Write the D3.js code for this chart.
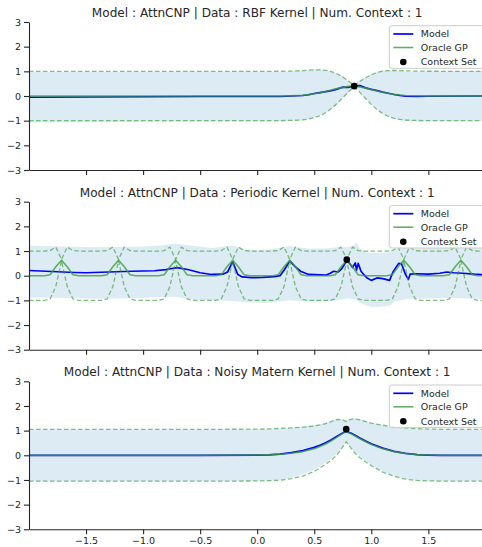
<!DOCTYPE html>
<html>
<head>
<meta charset="utf-8">
<script src="https://cdn.jsdelivr.net/npm/d3@7"></script>
<style>
  body { margin: 0; background: #fff; }
  text { font-family: "DejaVu Sans", sans-serif; fill: #262626; }
</style>
</head>
<body>
<div id="chart"></div>
<script>
// ---- values ----

var titles = [
  "Model : AttnCNP | Data : RBF Kernel | Num. Context : 1",
  "Model : AttnCNP | Data : Periodic Kernel | Num. Context : 1",
  "Model : AttnCNP | Data : Noisy Matern Kernel | Num. Context : 1"
];
var legendLabels = ["Model", "Oracle GP", "Context Set"];
var yTicks = [-3, -2, -1, 0, 1, 2, 3];
var xTicks = [-1.5, -1.0, -0.5, 0.0, 0.5, 1.0, 1.5];

// RBF kernel
var rbfX = [-2.0, -1.5, -1.0, -0.5, 0.0, 0.2, 0.3, 0.4, 0.45, 0.5, 0.55, 0.6, 0.65, 0.7, 0.75,
  0.8, 0.85, 0.9, 0.95, 1.0, 1.05, 1.1, 1.15, 1.2, 1.25, 1.3, 1.4, 1.5, 2.0];
var rbfOracleMean = [0, 0, 0, 0, 0, 0.003, 0.01, 0.03, 0.055, 0.09, 0.13, 0.18, 0.24, 0.30, 0.35,
  0.39, 0.40, 0.37, 0.32, 0.26, 0.20, 0.15, 0.10, 0.065, 0.04, 0.02, 0.008, 0.003, 0];
var rbfOracleStd = [1, 1, 1, 1, 1, 1, 1, 1, 0.99, 0.97, 0.93, 0.86, 0.75, 0.6, 0.42,
  0.22, 0.03, 0.22, 0.42, 0.6, 0.75, 0.86, 0.93, 0.97, 0.99, 1, 1, 1, 1];
var rbfModelMean = [-0.05, -0.04, -0.03, -0.02, -0.02, -0.02, 0.0, 0.02, 0.05, 0.1, 0.14, 0.18, 0.22, 0.28, 0.36,
  0.35, 0.41, 0.42, 0.33, 0.27, 0.22, 0.16, 0.11, 0.06, 0.02, -0.01, -0.02, -0.01, 0.0];
var rbfModelStd = [1.02, 1.02, 1.01, 1.01, 1.01, 1.01, 1.0, 1.0, 0.99, 0.97, 0.93, 0.86, 0.76, 0.62, 0.44,
  0.24, 0.05, 0.22, 0.42, 0.6, 0.75, 0.86, 0.93, 0.97, 0.99, 1.0, 1.01, 1.01, 1.0];
var rbfContextX = [0.85];
var rbfContextY = [0.40];

// Periodic kernel (oracle, model mean and model band each on their own grid)
var perOracleX = [-2.0, -1.965, -1.915, -1.865, -1.815, -1.765, -1.715,
  -1.665, -1.615, -1.565, -1.515, -1.465, -1.415, -1.365, -1.315, -1.265, -1.215,
  -1.165, -1.115, -1.065, -1.015, -0.965, -0.915, -0.865, -0.815, -0.765, -0.715,
  -0.665, -0.615, -0.565, -0.515, -0.465, -0.415, -0.365, -0.315, -0.265, -0.215,
  -0.165, -0.115, -0.065, -0.015, 0.035, 0.085, 0.135, 0.185, 0.235, 0.285,
  0.335, 0.385, 0.435, 0.485, 0.535, 0.585, 0.635, 0.685, 0.735, 0.785,
  0.835, 0.885, 0.935, 0.985, 1.035, 1.085, 1.135, 1.185, 1.235, 1.285,
  1.335, 1.385, 1.435, 1.485, 1.535, 1.585, 1.635, 1.685, 1.735, 1.785,
  1.835, 1.885, 1.935, 1.985, 2.0];
var perOracleMean = [0, 0, 0, 0, 0.04, 0.36, 0.63,
  0.36, 0.04, 0, 0, 0, 0, 0, 0.04, 0.36, 0.63,
  0.36, 0.04, 0, 0, 0, 0, 0, 0.04, 0.36, 0.63,
  0.36, 0.04, 0, 0, 0, 0, 0, 0.04, 0.36, 0.63,
  0.36, 0.04, 0, 0, 0, 0, 0, 0.04, 0.36, 0.63,
  0.36, 0.04, 0, 0, 0, 0, 0, 0.04, 0.36, 0.63,
  0.36, 0.04, 0, 0, 0, 0, 0, 0.04, 0.36, 0.63,
  0.36, 0.04, 0, 0, 0, 0, 0, 0.04, 0.36, 0.63,
  0.36, 0.04, 0, 0, 0];
var perOracleStd = [1, 1, 1, 1, 0.98, 0.8, 0.03,
  0.8, 0.98, 1, 1, 1, 1, 1, 0.98, 0.8, 0.03,
  0.8, 0.98, 1, 1, 1, 1, 1, 0.98, 0.8, 0.03,
  0.8, 0.98, 1, 1, 1, 1, 1, 0.98, 0.8, 0.03,
  0.8, 0.98, 1, 1, 1, 1, 1, 0.98, 0.8, 0.03,
  0.8, 0.98, 1, 1, 1, 1, 1, 0.98, 0.8, 0.03,
  0.8, 0.98, 1, 1, 1, 1, 1, 0.98, 0.8, 0.03,
  0.8, 0.98, 1, 1, 1, 1, 1, 0.98, 0.8, 0.03,
  0.8, 0.98, 1, 1, 1];
var perModelX = [-2.0, -1.8, -1.6, -1.5, -1.3, -1.1, -0.9, -0.8, -0.7, -0.6, -0.5, -0.4, -0.3, -0.26,
  -0.215, -0.17, -0.13, -0.05, 0.05, 0.15, 0.2, 0.24, 0.285, 0.33, 0.38, 0.45, 0.55, 0.6, 0.64,
  0.67, 0.71, 0.74, 0.76, 0.785, 0.81, 0.835, 0.86, 0.87, 0.885, 0.91, 0.935, 0.96, 1.0, 1.05,
  1.1, 1.16, 1.19, 1.24, 1.265, 1.3, 1.325, 1.34, 1.4, 1.5, 1.6, 1.66, 1.72, 1.8, 1.9, 2.0];
var perModelMean = [0.21, 0.17, 0.13, 0.12, 0.15, 0.18, 0.2, 0.25, 0.33, 0.24, 0.12, 0.05, 0.06, 0.15,
  0.56, 0.05, -0.05, -0.08, -0.07, -0.04, 0.0, 0.25, 0.6, 0.38, 0.18, 0.05, 0.03, 0.02, 0.1,
  0.18, 0.15, 0.28, 0.42, 0.62, 0.5, 0.33, 0.52, 0.23, 0.5, 0.18, 0.04, -0.08, -0.19, -0.09,
  -0.12, -0.19, 0.15, 0.5, 0.48, 0.05, -0.15, 0.06, 0.08, 0.06, 0.1, 0.15, 0.12, 0.1, 0.06, 0.04];
var perBandX = [-2.0, -1.7, -1.4, -1.0, -0.85, -0.72, -0.55, -0.4, -0.215, -0.1, 0.1, 0.285, 0.45,
  0.6, 0.7, 0.785, 0.84, 0.87, 0.9, 0.95, 1.0, 1.1, 1.17, 1.2, 1.25, 1.35, 1.5, 1.7, 2.0];
var perBandUpper = [1.22, 1.18, 1.15, 1.18, 1.22, 1.3, 1.2, 1.12, 1.22, 1.06, 1.05, 1.2, 1.1,
  1.1, 1.15, 1.15, 1.2, 1.36, 1.1, 0.96, 0.92, 0.93, 0.95, 1.02, 1.15, 1.1, 1.12, 1.17, 1.1];
var perBandLower = [-0.88, -0.9, -0.93, -0.9, -0.86, -0.85, -0.97, -1.0, -1.03, -1.08, -1.1, -1.0, -1.05,
  -1.05, -1.0, -0.92, -0.95, -1.0, -1.1, -1.2, -1.27, -1.25, -1.2, -1.05, -1.0, -0.93, -0.92, -0.9, -0.95];
var perContextX = [0.785];
var perContextY = [0.65];

// Noisy Matern kernel
var matX = [-2.0, -1.5, -1.0, -0.5, 0.0, 0.1, 0.2, 0.3, 0.4, 0.5, 0.55, 0.6, 0.65, 0.7, 0.75,
  0.78, 0.82, 0.85, 0.9, 0.95, 1.0, 1.1, 1.2, 1.3, 1.4, 1.5, 1.6, 1.8, 2.0];
var matOracleMean = [0, 0, 0, 0, 0.01, 0.02, 0.04, 0.08, 0.15, 0.27, 0.36, 0.46, 0.59, 0.74, 0.89,
  0.96, 0.88, 0.8, 0.67, 0.55, 0.44, 0.27, 0.15, 0.07, 0.03, 0.015, 0.005, 0, 0];
var matOracleStd = [1.05, 1.05, 1.05, 1.05, 1.05, 1.05, 1.05, 1.03, 0.99, 0.92, 0.87, 0.82, 0.78, 0.72, 0.55,
  0.41, 0.58, 0.68, 0.77, 0.82, 0.86, 0.95, 1.0, 1.04, 1.05, 1.05, 1.05, 1.05, 1.05];
var matModelMean = [0, 0, 0, 0, 0.01, 0.02, 0.05, 0.11, 0.19, 0.32, 0.41, 0.51, 0.63, 0.77, 0.9,
  0.97, 0.9, 0.83, 0.7, 0.58, 0.47, 0.29, 0.16, 0.08, 0.03, 0.01, 0, 0, 0];
var matModelStd = [1.05, 1.05, 1.05, 1.05, 1.05, 1.05, 1.05, 1.02, 0.97, 0.9, 0.85, 0.8, 0.76, 0.7, 0.55,
  0.43, 0.58, 0.67, 0.76, 0.81, 0.85, 0.94, 0.99, 1.03, 1.05, 1.05, 1.05, 1.05, 1.05];
var matContextX = [0.78];
var matContextY = [1.06];

// band = model mean +/- std where the picture follows that; periodic band read directly
function bandFrom(xs, mean, std) {
  return xs.map(function(v, j) { return {x: v, lo: mean[j] - std[j], hi: mean[j] + std[j]}; });
}

var panels = [
  {title: titles[0], oX: rbfX, oMean: rbfOracleMean, oStd: rbfOracleStd,
   mX: rbfX, mMean: rbfModelMean, band: bandFrom(rbfX, rbfModelMean, rbfModelStd),
   cX: rbfContextX, cY: rbfContextY},
  {title: titles[1], oX: perOracleX, oMean: perOracleMean, oStd: perOracleStd,
   mX: perModelX, mMean: perModelMean,
   band: perBandX.map(function(v, j) { return {x: v, lo: perBandLower[j], hi: perBandUpper[j]}; }),
   cX: perContextX, cY: perContextY},
  {title: titles[2], oX: matX, oMean: matOracleMean, oStd: matOracleStd,
   mX: matX, mMean: matModelMean, band: bandFrom(matX, matModelMean, matModelStd),
   cX: matContextX, cY: matContextY}
];

// ---- layout ----
var Width = 482, Height = 547;
var left = 29, right = 485.4;
var plotH = 148;
var tops = [22, 201.7, 381.3];

var modelColor = "#0000ff";
var oracleColor = "#3c9f3c";
var fillColor = "#ddebf4";

var svg = d3.select("#chart").append("svg")
  .attr("width", Width)
  .attr("height", Height);

var x = d3.scaleLinear().domain([-2, 2]).range([left, right]);

panels.forEach(function(p, i) {
  var top = tops[i];
  var y = d3.scaleLinear().domain([-3, 3]).range([top + plotH, top]);

  // clip to the axes box
  svg.append("clipPath").attr("id", "clip" + i)
    .append("rect")
    .attr("x", left).attr("y", top)
    .attr("width", right - left).attr("height", plotH);

  var g = svg.append("g").attr("clip-path", "url(#clip" + i + ")");

  var model = p.mX.map(function(v, j) { return {x: v, m: p.mMean[j]}; });
  var oracle = p.oX.map(function(v, j) { return {x: v, m: p.oMean[j], s: p.oStd[j]}; });

  // model band
  g.append("path")
    .datum(p.band)
    .attr("fill", fillColor)
    .attr("d", d3.area()
      .x(function(d) { return x(d.x); })
      .y0(function(d) { return y(d.lo); })
      .y1(function(d) { return y(d.hi); }));

  // model mean
  g.append("path")
    .datum(model)
    .attr("fill", "none")
    .attr("stroke", modelColor)
    .attr("stroke-width", 1.7)
    .attr("stroke-linejoin", "round")
    .attr("d", d3.line()
      .x(function(d) { return x(d.x); })
      .y(function(d) { return y(d.m); }));

  // oracle mean
  g.append("path")
    .datum(oracle)
    .attr("fill", "none")
    .attr("stroke", oracleColor)
    .attr("stroke-opacity", 0.8)
    .attr("stroke-width", 1.6)
    .attr("stroke-linejoin", "round")
    .attr("d", d3.line()
      .x(function(d) { return x(d.x); })
      .y(function(d) { return y(d.m); }));

  // oracle mean +/- std, dashed
  [1, -1].forEach(function(sign) {
    g.append("path")
      .datum(oracle)
      .attr("fill", "none")
      .attr("stroke", oracleColor)
      .attr("stroke-opacity", 0.65)
      .attr("stroke-width", 1.3)
      .attr("stroke-dasharray", "4.5,2.5")
      .attr("d", d3.line()
        .x(function(d) { return x(d.x); })
        .y(function(d) { return y(d.m + sign * d.s); }));
  });

  // context points
  g.selectAll("circle.ctx")
    .data(p.cX)
    .enter()
    .append("circle")
    .attr("class", "ctx")
    .attr("cx", function(d) { return x(d); })
    .attr("cy", function(d, j) { return y(p.cY[j]); })
    .attr("r", 3.3)
    .attr("fill", "#000");

  // axes
  var yAxis = d3.axisLeft(y).tickValues(yTicks).tickSize(5).tickSizeOuter(0).tickPadding(3)
    .tickFormat(d3.format("d"));
  var xAxis = d3.axisBottom(x).tickValues(xTicks).tickSize(5).tickSizeOuter(0).tickPadding(3)
    .tickFormat(i === 2 ? d3.format(".1f") : "");

  var ya = svg.append("g")
    .attr("transform", "translate(" + left + ",0)")
    .call(yAxis);
  var xa = svg.append("g")
    .attr("transform", "translate(0," + (top + plotH) + ")")
    .call(xAxis);

  [ya, xa].forEach(function(a) {
    a.select(".domain").attr("stroke", "#262626").attr("stroke-width", 1.1);
    a.selectAll(".tick line").attr("stroke", "#262626").attr("stroke-width", 1.1);
    a.selectAll(".tick text")
      .attr("fill", "#262626")
      .style("font-family", "DejaVu Sans")
      .style("font-size", "9.5px");
  });

  // title
  svg.append("text")
    .attr("x", (left + right) / 2)
    .attr("y", top - 5)
    .attr("text-anchor", "middle")
    .style("font-size", "12.1px")
    .text(p.title);

  // legend
  var lg = svg.append("g").attr("transform", "translate(389.3," + (top + 3.7) + ")");
  lg.append("rect")
    .attr("width", 100).attr("height", 42.6)
    .attr("rx", 2.5)
    .attr("fill", "#fff").attr("fill-opacity", 0.8)
    .attr("stroke", "#cccccc").attr("stroke-width", 1);
  var rows = [8.3, 21.8, 36.3];
  lg.append("line")
    .attr("x1", 4).attr("x2", 24).attr("y1", rows[0]).attr("y2", rows[0])
    .attr("stroke", modelColor).attr("stroke-width", 1.7);
  lg.append("line")
    .attr("x1", 4).attr("x2", 24).attr("y1", rows[1]).attr("y2", rows[1])
    .attr("stroke", oracleColor).attr("stroke-opacity", 0.8).attr("stroke-width", 1.6);
  lg.append("circle")
    .attr("cx", 14).attr("cy", rows[2]).attr("r", 3.3).attr("fill", "#000");
  legendLabels.forEach(function(lab, j) {
    lg.append("text")
      .attr("x", 31.4)
      .attr("y", rows[j])
      .attr("dy", "0.35em")
      .style("font-size", "9.5px")
      .text(lab);
  });
});
</script>
</body>
</html>
